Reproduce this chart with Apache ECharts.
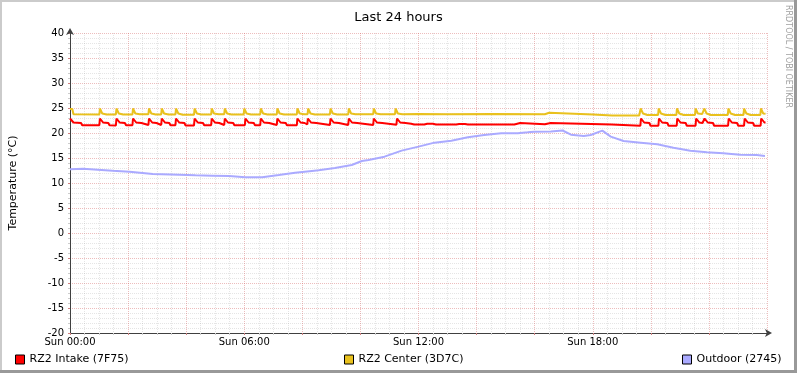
<!DOCTYPE html>
<html><head><meta charset="utf-8">
<script src="https://cdn.jsdelivr.net/npm/echarts@6/dist/echarts.min.js"></script>
<style>html,body{margin:0;padding:0;background:#fff}#c{width:797px;height:373px}</style>
</head><body><div id="c"></div>
<script>
var seriesNames = ['RZ2 Intake (7F75)', 'RZ2 Center (3D7C)', 'Outdoor (2745)'];
var xTickLabels = {0: 'Sun 00:00', 6: 'Sun 06:00', 12: 'Sun 12:00', 18: 'Sun 18:00'};
// [hour, °C]
var intakePoints = [
[0.00,22.9],[0.05,22.8],[0.12,22.1],[0.38,22.0],[0.42,21.55],
[1.01,21.55],[1.03,22.9],[1.08,22.8],[1.14,22.1],[1.32,22.0],[1.36,21.55],
[1.58,21.5],[1.60,22.9],[1.65,22.8],[1.71,22.1],[1.89,22.0],[1.93,21.55],
[2.15,21.55],[2.17,22.9],[2.22,22.8],[2.28,22.1],[2.46,22.0],[2.50,21.6],
[2.70,21.6],[2.72,22.9],[2.77,22.8],[2.83,22.1],[2.98,22.0],[3.02,21.6],
[3.14,21.6],[3.16,22.9],[3.21,22.8],[3.27,22.1],[3.42,22.0],[3.46,21.55],
[3.63,21.55],[3.65,22.9],[3.70,22.8],[3.76,22.1],[3.94,22.0],[3.98,21.5],
[4.27,21.5],[4.29,22.9],[4.34,22.8],[4.40,22.1],[4.58,22.0],[4.62,21.55],
[4.86,21.55],[4.88,22.9],[4.93,22.8],[4.99,22.1],[5.14,22.0],[5.18,21.6],
[5.31,21.6],[5.33,22.9],[5.38,22.8],[5.44,22.1],[5.62,22.0],[5.66,21.55],
[6.02,21.55],[6.04,22.9],[6.09,22.8],[6.15,22.1],[6.33,22.0],[6.37,21.55],
[6.55,21.55],[6.57,22.9],[6.62,22.8],[6.68,22.1],[6.86,22.0],[6.90,21.6],
[7.12,21.6],[7.14,22.9],[7.19,22.8],[7.25,22.1],[7.43,22.0],[7.47,21.55],
[7.81,21.55],[7.83,22.9],[7.88,22.8],[7.94,22.1],[8.08,22.0],[8.12,21.7],
[8.17,21.7],[8.19,22.9],[8.24,22.8],[8.30,22.1],[8.48,22.0],[8.52,21.6],
[8.95,21.6],[8.97,22.9],[9.02,22.8],[9.08,22.1],[9.26,22.0],[9.30,21.6],
[9.58,21.6],[9.60,22.9],[9.65,22.8],[9.71,22.1],[9.89,22.0],[9.93,21.6],
[10.44,21.6],[10.46,22.9],[10.51,22.8],[10.57,22.1],[10.75,22.0],[10.79,21.65],
[11.24,21.65],[11.26,22.9],[11.31,22.8],[11.37,22.1],[11.55,22.0],[11.60,21.75],
[11.75,21.85],[11.85,21.7],[12.2,21.7],[12.3,21.85],[12.5,21.85],[12.6,21.7],[13.3,21.7],[13.4,21.8],[13.6,21.8],[13.7,21.7],
[15.3,21.7],[15.35,22.0],[15.5,22.0],[15.55,21.75],[16.35,21.75],[16.39,22.0],[16.55,22.0],[16.6,21.7],[18.65,21.7],[18.7,21.45],
[19.64,21.45],[19.66,22.9],[19.71,22.8],[19.77,22.1],[19.95,22.0],[19.99,21.45],
[20.26,21.45],[20.28,22.9],[20.33,22.8],[20.39,22.1],[20.57,22.0],[20.61,21.45],
[20.89,21.45],[20.91,22.9],[20.96,22.8],[21.02,22.1],[21.20,22.0],[21.24,21.45],
[21.54,21.45],[21.56,22.9],[21.61,22.8],[21.67,22.1],[21.78,22.0],[21.82,21.7],
[21.83,21.7],[21.85,22.9],[21.90,22.8],[21.96,22.1],[22.14,22.0],[22.18,21.45],
[22.66,21.45],[22.68,22.9],[22.73,22.8],[22.79,22.1],[22.97,22.0],[23.01,21.45],
[23.21,21.45],[23.23,22.9],[23.28,22.8],[23.34,22.1],[23.52,22.0],[23.56,21.45],
[23.78,21.45],[23.80,22.9],[23.85,22.8],[23.91,22.1],[23.95,22.1]
];
var centerPoints = [
[0.00,24.8],[0.08,24.8],[0.12,23.75],
[1.01,23.7],[1.03,24.9],[1.07,24.85],[1.11,23.9],[1.26,23.7],
[1.58,23.7],[1.60,24.9],[1.64,24.85],[1.68,23.9],[1.83,23.7],
[2.15,23.7],[2.17,24.9],[2.21,24.85],[2.25,23.9],[2.40,23.75],
[2.70,23.75],[2.72,24.9],[2.76,24.85],[2.80,23.9],[2.95,23.7],
[3.14,23.7],[3.16,24.9],[3.20,24.85],[3.24,23.9],[3.39,23.7],
[3.63,23.7],[3.65,24.9],[3.69,24.85],[3.73,23.9],[3.88,23.65],
[4.27,23.65],[4.29,24.9],[4.33,24.85],[4.37,23.9],[4.52,23.7],
[4.86,23.7],[4.88,24.9],[4.92,24.85],[4.96,23.9],[5.11,23.75],
[5.31,23.75],[5.33,24.9],[5.37,24.85],[5.41,23.9],[5.56,23.7],
[5.98,23.7],[6.00,24.9],[6.04,24.85],[6.08,23.9],[6.23,23.7],
[6.55,23.7],[6.57,24.9],[6.61,24.85],[6.65,23.9],[6.80,23.7],
[7.12,23.7],[7.14,24.9],[7.18,24.85],[7.22,23.9],[7.37,23.7],
[7.81,23.7],[7.83,24.9],[7.87,24.85],[7.91,23.9],[8.06,23.75],
[8.18,23.75],[8.20,24.9],[8.24,24.85],[8.28,23.9],[8.43,23.7],
[8.95,23.7],[8.97,24.9],[9.01,24.85],[9.05,23.9],[9.20,23.7],
[9.58,23.7],[9.60,24.9],[9.64,24.85],[9.68,23.9],[9.83,23.75],
[10.44,23.75],[10.46,24.9],[10.50,24.85],[10.54,23.9],[10.69,23.75],
[11.19,23.75],[11.21,24.9],[11.25,24.85],[11.29,23.9],[11.44,23.75],
[12.0,23.8],[13.0,23.75],[14.5,23.8],[16.35,23.75],[16.39,24.05],[16.5,24.05],[16.55,23.75],[18.0,23.7],[18.67,23.5],[19.6,23.5],
[19.63,23.55],[19.65,24.9],[19.69,24.85],[19.73,23.9],[19.88,23.6],
[20.25,23.6],[20.27,24.9],[20.31,24.85],[20.35,23.9],[20.50,23.6],
[20.88,23.6],[20.90,24.9],[20.94,24.85],[20.98,23.9],[21.13,23.6],
[21.52,23.6],[21.54,24.9],[21.58,24.85],[21.62,23.9],[21.77,23.8],
[21.82,23.8],[21.84,24.9],[21.88,24.85],[21.92,23.9],[22.07,23.6],
[22.65,23.6],[22.67,24.9],[22.71,24.85],[22.75,23.9],[22.90,23.6],
[23.19,23.6],[23.21,24.9],[23.25,24.85],[23.29,23.9],[23.44,23.6],
[23.77,23.6],[23.79,24.9],[23.83,24.85],[23.87,23.9],[23.95,23.85]
];
var outdoorPoints = [
[0.00,12.74],[0.45,12.87],[1.47,12.47],[2.05,12.27],[2.85,11.8],[3.76,11.67],[4.32,11.53],[4.90,11.47],
[5.48,11.4],[6.03,11.13],[6.62,11.13],[7.19,11.6],[7.75,12.07],[8.33,12.4],[8.56,12.53],[9.12,13.0],
[9.70,13.6],[10.05,14.4],[10.28,14.6],[10.83,15.27],[11.42,16.47],[12.00,17.27],[12.55,18.07],[13.13,18.47],
[13.70,19.13],[14.26,19.6],[14.85,19.93],[15.42,19.93],[15.76,20.13],[15.98,20.27],[16.56,20.3],[16.96,20.5],
[17.25,19.67],[17.69,19.4],[17.93,19.6],[18.33,20.47],[18.62,19.27],[19.06,18.4],[19.65,18.07],[20.22,17.73],
[20.78,17.07],[21.36,16.47],[21.93,16.13],[22.49,15.93],[23.07,15.67],[23.65,15.6],[23.93,15.4]
];
var seriesColors = ['#FF0000', '#E9C11D', '#AAAAFF'];

var F = 'DejaVu Sans';
var chart = echarts.init(document.getElementById('c'), null, {renderer: 'canvas'});
function legendAt(i, left) {
  return {data: [seriesNames[i]], left: left, top: 354, padding: 0, icon: 'rect', itemWidth: 9, itemHeight: 9,
    itemStyle: {borderColor: '#000', borderWidth: 1}, textStyle: {fontFamily: F, fontSize: 11, color: '#000'}, selectedMode: false};
}
var pts = [intakePoints, centerPoints, outdoorPoints];
chart.setOption({
  animation: false,
  backgroundColor: '#ffffff',
  title: {text: 'Last 24 hours', left: 'center', top: 6, textStyle: {fontFamily: F, fontSize: 13, fontWeight: 'normal', color: '#000'}},
  grid: {left: 67, right: 30, top: 33, bottom: 40, containLabel: false},
  legend: [legendAt(0, 15), legendAt(1, 344), legendAt(2, 682)],
  xAxis: {
    type: 'value', min: 0, max: 24, interval: 2,
    axisLine: {onZero: false, lineStyle: {color: '#404040', width: 1}, symbol: ['none', 'arrow'], symbolSize: [6, 7], symbolOffset: [0, 5]},
    axisTick: {show: true, length: 2, lineStyle: {color: '#d08080'}},
    minorTick: {show: true, splitNumber: 4, length: 2, lineStyle: {color: '#cccccc'}},
    axisLabel: {fontFamily: F, fontSize: 10, color: '#000', margin: 4, showMaxLabel: false,
      formatter: function (v) { return xTickLabels[v] || ''; }},
    splitLine: {show: true, lineStyle: {color: 'rgba(210,90,90,0.4)', type: [1, 1], width: 1}},
    minorSplitLine: {show: true, lineStyle: {color: 'rgba(150,150,150,0.25)', type: [1, 1], width: 1}}
  },
  yAxis: {
    type: 'value', min: -20, max: 40, interval: 5,
    name: 'Temperature (°C)', nameLocation: 'middle', nameGap: 51,
    nameTextStyle: {fontFamily: F, fontSize: 11, color: '#000'},
    axisLine: {show: true, lineStyle: {color: '#404040', width: 1}, symbol: ['none', 'arrow'], symbolSize: [6, 7], symbolOffset: [0, 5]},
    axisTick: {show: true, length: 2, lineStyle: {color: '#d08080'}},
    minorTick: {show: true, splitNumber: 5, length: 2, lineStyle: {color: '#cccccc'}},
    axisLabel: {fontFamily: F, fontSize: 10, color: '#000', margin: 6},
    splitLine: {show: true, lineStyle: {color: 'rgba(210,90,90,0.4)', type: [1, 1], width: 1}},
    minorSplitLine: {show: true, lineStyle: {color: 'rgba(150,150,150,0.25)', type: [1, 1], width: 1}}
  },
  series: [2, 1, 0].map(function (i) {
    return {name: seriesNames[i], type: 'line', data: pts[i], showSymbol: false, symbol: 'none',
      itemStyle: {color: seriesColors[i]}, lineStyle: {color: seriesColors[i], width: 2}, z: 3 + i};
  }),
  graphic: [
    {type: 'rect', shape: {x: 0, y: 0, width: 797, height: 2}, style: {fill: '#CBCBCB'}, silent: true},
    {type: 'rect', shape: {x: 0, y: 0, width: 2, height: 373}, style: {fill: '#CBCBCB'}, silent: true},
    {type: 'rect', shape: {x: 0, y: 370, width: 797, height: 3}, style: {fill: '#999999'}, silent: true},
    {type: 'rect', shape: {x: 794, y: 0, width: 3, height: 373}, style: {fill: '#999999'}, silent: true},
    {type: 'text', x: 792, y: 5, rotation: -Math.PI / 2, silent: true,
      style: {text: 'RRDTOOL / TOBI OETIKER', fontFamily: F, fontSize: 8, fill: '#a0a0a0', align: 'left', verticalAlign: 'top'}}
  ]
});
</script></body></html>
